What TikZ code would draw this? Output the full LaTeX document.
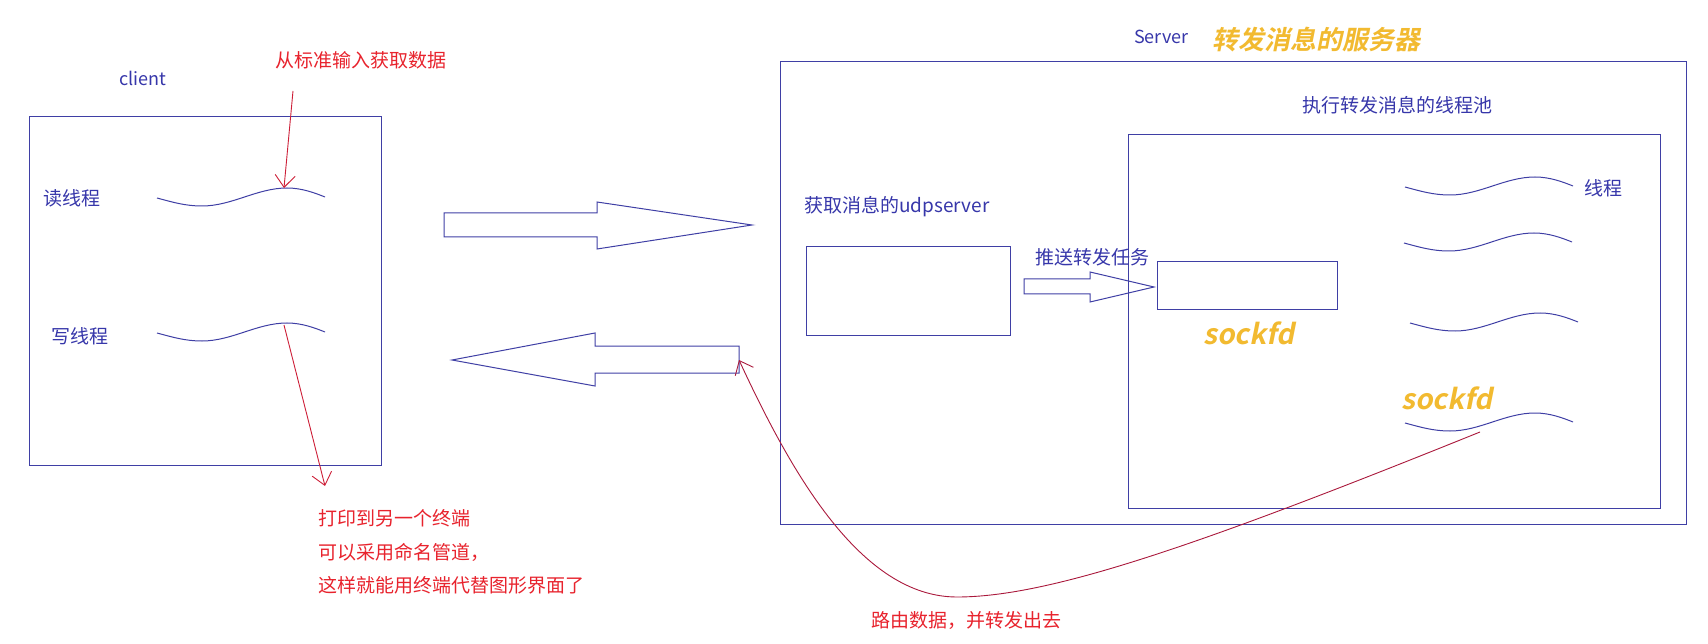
\documentclass[tikz,border=0pt]{standalone}
\usepackage{fontspec}
\setmainfont{Noto Sans CJK SC}
\newfontfamily\bifont{Noto Sans CJK SC Bold}[FakeSlant=0.2]
\usetikzlibrary{arrows.meta}
\definecolor{ln}{RGB}{63,63,165}
\definecolor{bt}{RGB}{55,55,170}
\definecolor{rt}{RGB}{232,35,45}
\definecolor{rl}{RGB}{205,30,55}
\definecolor{rc}{RGB}{170,25,60}
\definecolor{og}{RGB}{242,186,48}
\tikzset{
  box/.style={draw=ln, line width=1pt, inner sep=0pt, outer sep=0pt, anchor=north west},
  btxt/.style={text=bt, inner sep=0pt, anchor=west, font=\fontsize{18}{18}\selectfont},
  rtxt/.style={text=rt, inner sep=0pt, anchor=west, font=\fontsize{19}{19}\selectfont},
  otxt/.style={text=og, inner sep=0pt, anchor=west},
  redarrow/.style={draw=rl, line width=0.9pt, -{Straight Barb[length=12pt,width=20pt]}},
  hollow/.style={draw=ln, line width=1pt, line join=miter},
  wave/.pic={\draw[ln, line width=1pt] (0,0) .. controls (15,4) and (28,8) .. (45,8) .. controls (75,8) and (100,-10) .. (130,-10) .. controls (145,-10) and (158,-5) .. (168,-1);}
}
\begin{document}
\begin{tikzpicture}[x=1pt,y=-1pt]
\fill[white] (0,0) rectangle (1708,644);
\useasboundingbox (0,0) rectangle (1708,644);
% client side
\node[box, minimum width=352pt, minimum height=348pt] (client) at (29,117) {};
\node[btxt] (clientlbl) at (119,78) {client};
\node[rtxt] (stdin) at (275,60) {从标准输入获取数据};
\node[btxt, font=\fontsize{19}{19}\selectfont] (rd) at (43,198) {读线程};
\node[btxt, font=\fontsize{19}{19}\selectfont] (wr) at (51,336) {写线程};
\pic at (157,198) {wave};
\pic at (157,333) {wave};
\coordinate (inStart) at (293,91);
\coordinate (inEnd) at (284,188);
\draw[redarrow] (inStart) -- (inEnd);
\coordinate (outStart) at (284,325);
\coordinate (outEnd) at (325,486);
\draw[redarrow] (outStart) -- (outEnd);
\node[rtxt] (t1) at (318,518) {打印到另一个终端};
\node[rtxt] (t2) at (318,552) {可以采用命名管道，};
\node[rtxt] (t3) at (318,585) {这样就能用终端代替图形界面了};
% big hollow arrows
\draw[hollow] (444,213) -- (597,213) -- (597,202) -- (752,225) -- (597,249) -- (597,237) -- (444,237) -- cycle;
\draw[hollow] (739,346) -- (595,346) -- (595,333) -- (452,360) -- (595,386) -- (595,373) -- (739,373) -- cycle;
% server
\node[box, minimum width=906pt, minimum height=462pt] (server) at (780,62) {};
\node[btxt] (serverlbl) at (1134,37) {Server};
\node[otxt, font=\fontsize{26}{26}\selectfont\bifont] (servertitle) at (1212,40) {转发消息的服务器};
\node[btxt, font=\fontsize{19}{19}\selectfont] (poollbl) at (1302,105) {执行转发消息的线程池};
\node[box, minimum width=532pt, minimum height=373pt] (pool) at (1128,135) {};
\node[btxt, font=\fontsize{19}{19}\selectfont] (udplbl) at (804,207) {获取消息的udpserver};
\node[box, minimum width=204pt, minimum height=88pt] (udp) at (806,247) {};
\node[btxt, font=\fontsize{19}{19}\selectfont] (pushlbl) at (1035,257) {推送转发任务};
\draw[hollow] (1024,279) -- (1090,279) -- (1090,272) -- (1154,287) -- (1090,302) -- (1090,294) -- (1024,294) -- cycle;
\node[box, minimum width=180pt, minimum height=48pt] (sock) at (1157,262) {};
\node[otxt, font=\fontsize{28}{28}\selectfont\bifont] (sock1) at (1203,333) {sockfd};
\node[otxt, font=\fontsize{28}{28}\selectfont\bifont] (sock2) at (1401,398) {sockfd};
\pic at (1405,187) {wave};
\pic at (1404,243) {wave};
\pic at (1410,323) {wave};
\pic at (1405,423) {wave};
\node[btxt, font=\fontsize{19}{19}\selectfont] (thr) at (1584,188) {线程};
% route curve
\coordinate (rStart) at (1480,432);
\coordinate (rMid) at (957,597);
\coordinate (rEnd) at (739,360);
\draw[draw=rc, line width=0.9pt, -{Straight Barb[length=12pt,width=20pt]}] (rStart) .. controls (1200,545) and (1050,597) .. (rMid) .. controls (860,597) and (790,470) .. (rEnd);
\node[rtxt] (route) at (871,620) {路由数据，并转发出去};
\end{tikzpicture}
\end{document}
